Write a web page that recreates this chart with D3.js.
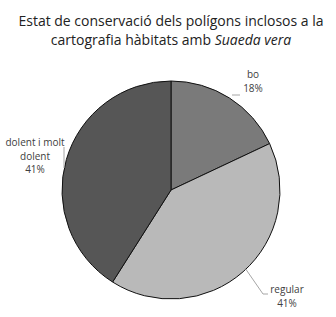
<!DOCTYPE html>
<html>
<head>
<meta charset="utf-8">
<script src="https://cdn.jsdelivr.net/npm/d3@7"></script>
<style>
  body { margin: 0; background: #fff; }
  text { font-family: "Open Sans", sans-serif; fill: #404040; }
</style>
</head>
<body>
<div id="chart"></div>
<script>
// data
var categories = ["bo", "regular", "dolent i molt dolent"];
var values = [18, 41, 41];
var percentLabels = ["18%", "41%", "41%"];
var colors = ["#7a7a7a", "#b9b9b9", "#565656"];

var width = 336, height = 317;
var cx = 171, cy = 190, radius = 109;

var svg = d3.select("#chart").append("svg")
  .attr("width", width)
  .attr("height", height);

// title
var title = svg.append("text")
  .attr("x", 171)
  .attr("y", 26)
  .style("text-anchor", "middle")
  .style("font-size", "14px")
  .style("fill", "#222");
title.append("tspan").text("Estat de conservació dels polígons inclosos a la");
var t2 = title.append("tspan").attr("x", 171).attr("dy", 19);
t2.append("tspan").text("cartografia hàbitats amb ");
t2.append("tspan").style("font-style", "italic").text("Suaeda vera");

var pie = d3.pie().sort(null).value(function(d) { return d; });
var arc = d3.arc().innerRadius(0).outerRadius(radius);
var arcs = pie(values);

var g = svg.append("g")
  .attr("transform", "translate(" + cx + "," + cy + ")");

g.selectAll("path")
  .data(arcs)
  .enter().append("path")
  .attr("d", arc)
  .attr("fill", function(d, i) { return colors[i]; })
  .attr("stroke", "#111")
  .attr("stroke-width", 1);

// label positions (relative to centre) and leader lines
var labelPos = [
  {x: 82, y: -112, lines: [categories[0]]},
  {x: 116, y: 103, lines: ["regular"]},
  {x: -136, y: -44, lines: ["dolent i molt", "dolent"]}
];
var leaders = [
  [[61, -95], [69, -95]],
  [[74, 78], [92, 104], [97, 104]],
  [[-107, -43], [-107, -22]]
];

var line = d3.line();
g.selectAll("path.leader")
  .data(leaders)
  .enter().append("path")
  .attr("class", "leader")
  .attr("d", function(d) { return line(d); })
  .attr("fill", "none")
  .attr("stroke", "#a6a6a6")
  .attr("stroke-width", 1);

labelPos.forEach(function(p, i) {
  var t = g.append("text")
    .attr("x", p.x)
    .attr("y", p.y)
    .style("text-anchor", "middle")
    .style("font-size", "10px");
  p.lines.concat([percentLabels[i]]).forEach(function(s, j) {
    t.append("tspan").attr("x", p.x).attr("dy", j === 0 ? 0 : 13.5).text(s);
  });
});
</script>
</body>
</html>
